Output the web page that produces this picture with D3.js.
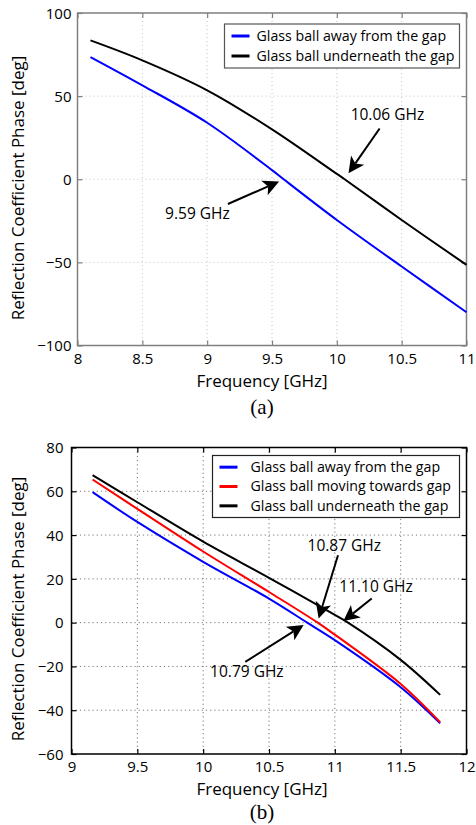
<!DOCTYPE html>
<html>
<head>
<meta charset="utf-8">
<script src="https://cdn.jsdelivr.net/npm/d3@7"></script>
<style>
  body { margin: 0; background: #fff; }
  svg { display: block; }
  text { font-family: "Open Sans", "DejaVu Sans", sans-serif; fill: #000; }
  .cap { font-family: "Liberation Serif", "DejaVu Serif", serif; }
</style>
</head>
<body>
<script>
/* --------------------------------------------------------------------------------- */
// panel (a) data
var a_away_f  = [8.1, 8.5, 9.0, 9.5, 9.59, 10.0, 10.5, 11.0];
var a_away_v  = [73.5, 56.5, 34, 5.5, 0, -24.5, -52.5, -80];
var a_under_f = [8.1, 8.5, 9.0, 9.5, 10.0, 10.06, 10.5, 11.0];
var a_under_v = [83.5, 71.5, 53.5, 30, 3.2, 0, -24.5, -51.5];
var a_xticks  = [8, 8.5, 9, 9.5, 10, 10.5, 11];
var a_yticks  = [-100, -50, 0, 50, 100];
var a_legend  = ["Glass ball away from the gap", "Glass ball underneath the gap"];

// annotations (a): label, text pos, arrow tail, arrow tip  (freq, phase)
var a_note_labels = ["10.06 GHz", "9.59 GHz"];
var a_note_text   = [[10.39, 38.7], [8.925, -20.9]];
var a_note_tail   = [[10.33, 30.5], [9.16, -14.9]];
var a_note_tip    = [[10.09, 3.6], [9.555, -1.4]];

/* --------------------------------------------------------------------------------- */
// panel (b) data
var b_away_f   = [9.16, 9.5, 10.0, 10.5, 10.79, 11.0, 11.5, 11.8];
var b_away_v   = [59.6, 46, 27.8, 11, 0, -8, -29.5, -46];
var b_moving_f = [9.16, 9.5, 10.0, 10.5, 10.87, 11.0, 11.5, 11.8];
var b_moving_v = [65.4, 52, 32.5, 14, 0, -5.5, -28, -45.5];
var b_under_f  = [9.16, 9.5, 10.0, 10.5, 11.0, 11.1, 11.5, 11.8];
var b_under_v  = [67.4, 55, 37, 20.5, 3.5, 0, -17, -33];
var b_xticks   = [9, 9.5, 10, 10.5, 11, 11.5, 12];
var b_yticks   = [-60, -40, -20, 0, 20, 40, 60, 80];
var b_legend   = ["Glass ball away from the gap", "Glass ball moving towards gap", "Glass ball underneath the gap"];

var b_note_labels = ["10.87 GHz", "11.10 GHz", "10.79 GHz"];
var b_note_text   = [[11.072, 35.4], [11.313, 16.3], [10.332, -22.5]];
var b_note_tail   = [[11.024, 30.8], [11.28, 11], [10.32, -17.9]];
var b_note_tip    = [[10.877, 1.9], [11.065, 0.7], [10.763, -1.1]];

/* --------------------------------------------------------------------------------- */
function zip(f, v) { return f.map(function(d, i) { return [d, v[i]]; }); }
/* --------------------------------------------------------------------------------- */

var svg = d3.select("body").append("svg")
    .attr("width", 476)
    .attr("height", 825);

draw_panel(svg, {
  xdom: [8, 11], xr: [77.5, 466.5],
  ydom: [-100, 100], yr: [345.5, 13],
  xticks: a_xticks, yticks: a_yticks,
  frame: "#7f7f7f", grid: "#c4c4c4", griddash: "1,3",
  series: [
    { data: zip(a_away_f, a_away_v),   color: "#0000ff" },
    { data: zip(a_under_f, a_under_v), color: "#000000" }
  ],
  legend: a_legend, legbox: [224.5, 24, 235, 44], legtext: 32, legframe: "#555",
  labels: a_note_labels, text: a_note_text, tail: a_note_tail, tip: a_note_tip,
  ylabel_y: 188, ylab_gap: 6, xtick_y: 359, xlabel_y: 381, cap: "(a)", cap_y: 407
});

draw_panel(svg, {
  xdom: [9, 12], xr: [71.5, 466.5],
  ydom: [-60, 80], yr: [754, 447.5],
  xticks: b_xticks, yticks: b_yticks,
  frame: "#000", grid: "#777", griddash: "1.2,3",
  series: [
    { data: zip(b_away_f, b_away_v),     color: "#0000ff" },
    { data: zip(b_moving_f, b_moving_v), color: "#ff0000" },
    { data: zip(b_under_f, b_under_v),   color: "#000000" }
  ],
  legend: b_legend, legbox: [212.5, 455.5, 247, 62], legtext: 38, legframe: "#222",
  labels: b_note_labels, text: b_note_text, tail: b_note_tail, tip: b_note_tip,
  ylabel_y: 609, ylab_gap: 8, xtick_y: 767, xlabel_y: 789, cap: "(b)", cap_y: 812
});

// --------------------------------------------------------------------------------------
// one matlab style panel
// --------------------------------------------------------------------------------------
function draw_panel(svg, c)
{
  var x = d3.scaleLinear().domain(c.xdom).range(c.xr);
  var y = d3.scaleLinear().domain(c.ydom).range(c.yr);
  var g = svg.append("g");
  var fmt = d3.format("");

  var x0 = c.xr[0], x1 = c.xr[1], y0 = c.yr[1], y1 = c.yr[0];

  // ==========================================================
  // grid
  g.append("g").selectAll("line")
      .data(c.xticks.slice(1, -1))
      .enter().append("line")
      .attr("x1", function(d) { return x(d); })
      .attr("x2", function(d) { return x(d); })
      .attr("y1", y0).attr("y2", y1)
      .attr("stroke", c.grid).attr("stroke-width", 1)
      .attr("stroke-dasharray", c.griddash);

  g.append("g").selectAll("line")
      .data(c.yticks.slice(1, -1))
      .enter().append("line")
      .attr("y1", function(d) { return y(d); })
      .attr("y2", function(d) { return y(d); })
      .attr("x1", x0).attr("x2", x1)
      .attr("stroke", c.grid).attr("stroke-width", 1)
      .attr("stroke-dasharray", c.griddash);

  // ==========================================================
  // axes, ticks pointing inwards on all four sides
  var ax = [
    { a: d3.axisBottom(x).tickValues(c.xticks), t: "translate(0," + y1 + ")", lab: "x" },
    { a: d3.axisTop(x).tickValues(c.xticks),    t: "translate(0," + y0 + ")", lab: null },
    { a: d3.axisLeft(y).tickValues(c.yticks),   t: "translate(" + x0 + ",0)", lab: "y" },
    { a: d3.axisRight(y).tickValues(c.yticks),  t: "translate(" + x1 + ",0)", lab: null }
  ];

  ax.forEach(function(o) {
    o.a.tickSizeInner(-5).tickSizeOuter(0).tickFormat(o.lab ? fmt : "");
    var s = g.append("g").attr("transform", o.t).call(o.a);
    s.select(".domain").remove();
    s.selectAll("line").attr("stroke", c.frame).attr("stroke-width", 1.2);
    var t = s.selectAll("text").style("font-size", "15px").style("font-family", null).attr("fill", "#000");
    if(o.lab == "x") t.attr("y", c.xtick_y - y1).attr("dy", "0.35em");
    if(o.lab == "y") t.attr("x", -c.ylab_gap).attr("dy", "0.35em");
  });

  g.append("rect")
      .attr("x", x0).attr("y", y0)
      .attr("width", x1 - x0).attr("height", y1 - y0)
      .attr("fill", "none").attr("stroke", c.frame).attr("stroke-width", 1.5);

  // ==========================================================
  // curves
  var line = d3.line()
      .x(function(d) { return x(d[0]); })
      .y(function(d) { return y(d[1]); })
      .curve(d3.curveCatmullRom.alpha(0.5));

  g.append("g").selectAll("path")
      .data(c.series)
      .enter().append("path")
      .attr("d", function(d) { return line(d.data); })
      .attr("fill", "none")
      .attr("stroke", function(d) { return d.color; })
      .attr("stroke-width", 2);

  // ==========================================================
  // legend
  var lb = c.legbox;
  var leg = g.append("g");
  leg.append("rect")
      .attr("x", lb[0]).attr("y", lb[1]).attr("width", lb[2]).attr("height", lb[3])
      .attr("fill", "#fff").attr("stroke", c.legframe).attr("stroke-width", 1.2);

  var step = (lb[3] - 4) / c.legend.length;
  var items = leg.selectAll(".item")
      .data(c.legend)
      .enter().append("g")
      .attr("transform", function(d, i) { return "translate(" + lb[0] + "," + (lb[1] + 2 + step * (i + 0.5)) + ")"; });

  items.append("line")
      .attr("x1", 7).attr("x2", 25).attr("y1", 0).attr("y2", 0)
      .attr("stroke", function(d, i) { return c.series[i].color; })
      .attr("stroke-width", 3);

  items.append("text")
      .attr("x", c.legtext)
      .attr("y", 0).attr("dy", "0.35em")
      .style("font-size", "14.2px")
      .text(function(d) { return d; });

  // ==========================================================
  // annotation arrows
  c.labels.forEach(function(lab, i) {
    var tx = x(c.tail[i][0]), ty = y(c.tail[i][1]);
    var px = x(c.tip[i][0]),  py = y(c.tip[i][1]);
    var dx = px - tx, dy = py - ty, len = Math.sqrt(dx * dx + dy * dy);
    var ux = dx / len, uy = dy / len, nx = -uy, ny = ux;
    var hl = 16, hw = 8, notch = 12;
    var bx = px - ux * notch, by = py - uy * notch;

    g.append("line")
        .attr("x1", tx).attr("y1", ty).attr("x2", bx).attr("y2", by)
        .attr("stroke", "#000").attr("stroke-width", 2);

    var pts = [
      [px, py],
      [px - ux * hl + nx * hw, py - uy * hl + ny * hw],
      [bx, by],
      [px - ux * hl - nx * hw, py - uy * hl - ny * hw]
    ];
    g.append("path")
        .attr("d", "M" + pts.map(function(p) { return p.join(","); }).join("L") + "Z")
        .attr("fill", "#000");

    g.append("text")
        .attr("x", x(c.text[i][0])).attr("y", y(c.text[i][1]))
        .attr("dy", "0.35em")
        .attr("text-anchor", "middle")
        .style("font-size", "15.5px")
        .text(lab);
  });

  // ==========================================================
  // axis labels and caption
  g.append("text")
      .attr("x", 262).attr("y", c.xlabel_y)
      .attr("dy", "0.35em")
      .attr("text-anchor", "middle")
      .style("font-size", "17px")
      .text("Frequency [GHz]");

  g.append("text")
      .attr("transform", "translate(18," + c.ylabel_y + ") rotate(-90)")
      .attr("dy", "0.35em")
      .attr("text-anchor", "middle")
      .style("font-size", "17px")
      .text("Reflection Coefficient Phase [deg]");

  g.append("text")
      .attr("class", "cap")
      .attr("x", 262).attr("y", c.cap_y)
      .attr("dy", "0.35em")
      .attr("text-anchor", "middle")
      .style("font-size", "21px")
      .text(c.cap);
}
/* --------------------------------------------------------------------------------- */
</script>
</body>
</html>
